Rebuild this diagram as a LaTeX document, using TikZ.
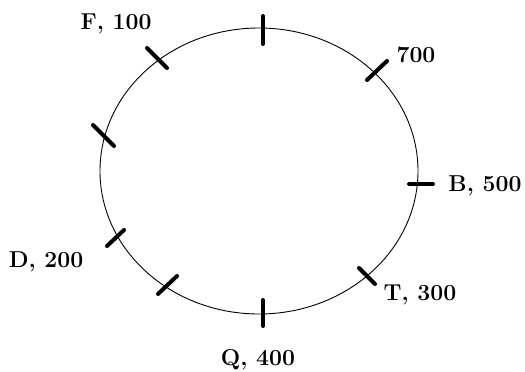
\documentclass[tikz,border=0pt]{standalone}
\begin{document}
\begin{tikzpicture}[
    x=1pt,y=-1pt,
    lbl/.style={font=\fontsize{23}{25}\selectfont\bfseries,inner sep=0pt},
    mk/.style={line width=4pt,line cap=round}
]
\useasboundingbox (0,0) rectangle (525,372);
\draw[line width=0.9pt] (259,171) ellipse [x radius=159, y radius=143];
% marks on the ring
\draw[mk] (263,16) -- (263,44);
\draw[mk] (147,48) -- (167,68);
\draw[mk] (367,80) -- (387,61);
\draw[mk] (93,125) -- (114,146);
\draw[mk] (409,184) -- (433,184);
\draw[mk] (107,246) -- (124,230);
\draw[mk] (158,294) -- (177,276);
\draw[mk] (263,300) -- (263,326);
\draw[mk] (359,268) -- (375,284);
% labels
\node[lbl] (f) at (116,24) {F, 100};
\node[lbl] (s) at (416,55) {700};
\node[lbl] (b) at (485,186) {B, 500};
\node[lbl] (t) at (420,295) {T, 300};
\node[lbl] (q) at (258,360) {Q, 400};
\node[lbl] (d) at (46,262) {D, 200};
\end{tikzpicture}
\end{document}
